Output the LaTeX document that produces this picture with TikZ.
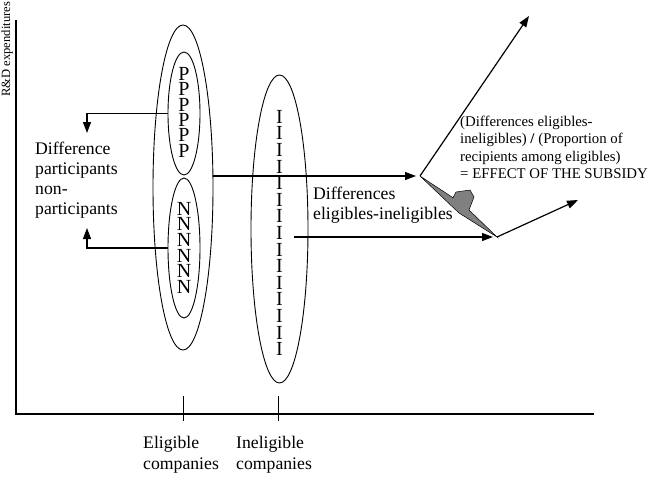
\documentclass[tikz,border=0pt]{standalone}
\usepackage{fontspec}
\setmainfont{Liberation Serif}
\usepackage{tikz}
\usetikzlibrary{shapes.geometric, arrows.meta, positioning, calc}
\definecolor{ArrowGray}{HTML}{808080}

\tikzset{
    lbl/.style={font=\fontsize{17.7}{20}\selectfont, align=left, inner sep=0, anchor=north west},
    smalllbl/.style={font=\fontsize{14.8}{17.3}\selectfont, align=left, inner sep=0, anchor=north west},
    column/.style={align=center, inner sep=0, anchor=north},
    set/.style={draw, ellipse, line width=0.9pt, inner sep=0},
    arr/.style={-{Triangle[length=11pt,width=8pt]}, line width=1.2pt}
}

\begin{document}
\begin{tikzpicture}[x=1pt, y=-1pt]
    \useasboundingbox (0,0) rectangle (654,480);

    % Axes
    \coordinate (origin) at (16,414);
    \coordinate (ytop) at (16,20);
    \coordinate (xend) at (594,414);
    \draw[line width=2pt] (ytop) -- (origin) -- (xend);
    \node[rotate=90, anchor=base west, font=\fontsize{12.6}{14}\selectfont, inner sep=0] (ylabel) at (10,97) {R\&D expenditures};

    % Ticks and group labels
    \draw[line width=1pt] (183,396) -- (183,421);
    \draw[line width=1pt] (278,396) -- (278,421);
    \node[lbl] (eliglbl) at (143,436) {Eligible\\[1pt]companies};
    \node[lbl] (ineliglbl) at (236,436) {Ineligible\\[1pt]companies};

    % Eligible companies
    \node[set, minimum width=60pt, minimum height=325pt] (elig) at (183,187.5) {};
    \node[set, minimum width=32pt, minimum height=123pt] (pset) at (184,113.5) {};
    \node[set, minimum width=32pt, minimum height=140pt] (nset) at (184,248) {};
    \node[column, font=\fontsize{20}{15.4}\selectfont] (pcol) at (184,67) {P\\P\\P\\P\\P\\P};
    \node[column, font=\fontsize{20}{15.6}\selectfont] (ncol) at (184,202) {N\\N\\N\\N\\N\\N};

    % Ineligible companies
    \node[set, minimum width=57pt, minimum height=308pt] (inelig) at (279.5,229) {};
    \node[column, font=\fontsize{20}{16.6}\selectfont] (icol) at (279.5,110) {I\\I\\I\\I\\I\\I\\I\\I\\I\\I\\I\\I\\I\\I\\I};

    % Difference participants / non-participants
    \node[lbl] (diffpart) at (35,142) {Difference\\participants\\non-\\participants};
    \coordinate (ptip) at (87,133);
    \coordinate (ntip) at (87,228);
    \draw[arr] (pset.west) -| (ptip);
    \draw[arr] (nset.west) -| (ntip);

    % Differences eligibles-ineligibles
    \coordinate (tipA) at (420,176);
    \coordinate (tipB) at (497,237);
    \coordinate (istart) at (294,237);
    \draw[arr, shorten >=4pt] (elig.east |- tipA) -- (tipA);
    \draw[arr, shorten >=4pt] (istart) -- (tipB);
    \node[lbl] (diffelig) at (313,187) {Differences\\eligibles-ineligibles};

    % Slopes
    \coordinate (topend) at (529,16);
    \coordinate (rightend) at (578,200);
    \draw[arr] (tipA) -- (topend);
    \draw[arr] (tipB) -- (rightend);

    % Effect of the subsidy
    \fill[ArrowGray, draw=black, line width=0.5pt] (tipA) -- (453,197.7) -- (456,192) -- (470,190)
        -- (474,197) -- (469,210) -- (tipB) -- (459,213) -- cycle;
    \node[smalllbl] (effect) at (460,116) {(Differences eligibles-\\ineligibles) \textbf{/} (Proportion of\\recipients among eligibles)\\= EFFECT OF THE SUBSIDY};
\end{tikzpicture}
\end{document}
